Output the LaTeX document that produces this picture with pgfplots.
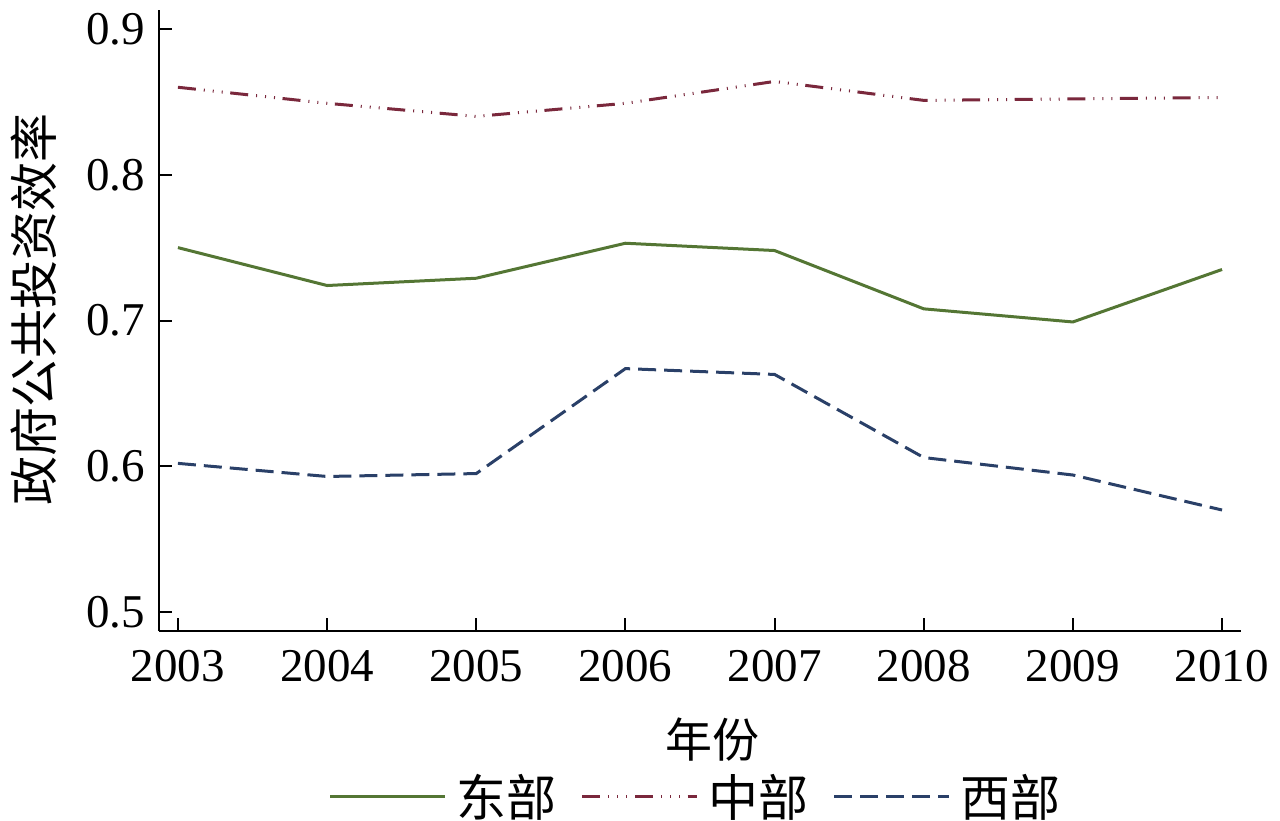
\documentclass[border=0pt]{standalone}
\usepackage{fontspec}
\setmainfont{Liberation Serif}
\newfontfamily\cjk{Noto Sans CJK SC}
\usepackage{pgfplots}
\pgfplotsset{compat=1.18}
\definecolor{cgreen}{RGB}{84,118,52}
\definecolor{cmaroon}{RGB}{122,40,60}
\definecolor{cnavy}{RGB}{42,64,104}
\begin{document}
\begin{tikzpicture}
\path[use as bounding box] (0,0) rectangle (640pt,410pt);
\begin{axis}[
  at={(79.5pt,94.5pt)}, anchor=south west,
  scale only axis, width=541pt, height=310.5pt,
  xmin=2002.873, xmax=2010.127, ymin=0.487, ymax=0.913,
  axis x line*=bottom, axis y line*=left,
  axis line style={line width=1pt, black, -},
  xtick={2003,...,2010}, ytick={0.5,0.6,0.7,0.8,0.9},
  xticklabels={2003,2004,2005,2006,2007,2008,2009,2010},
  yticklabels={0.5,0.6,0.7,0.8,0.9},
  tick align=inside, major tick length=6.5pt,
  tick style={line width=1pt, black},
  every tick label/.append style={font=\fontsize{23.5}{27}\selectfont},
  xticklabel style={yshift=-6pt},
  yticklabel style={xshift=-3.5pt},
  clip=false,
  legend style={at={(0.5,-0.267)}, anchor=center, draw=none, fill=none,
    font=\cjk\fontsize{25}{29}\selectfont, inner sep=0pt,
    nodes={inner xsep=5pt}},
  legend columns=3,
  /tikz/every even column/.append style={column sep=7pt},
  legend image code/.code={\draw[#1] (0pt,0pt) -- (57.5pt,0pt);},
]
\addplot[cgreen, line width=1.5pt] coordinates {
 (2003,0.750) (2004,0.724) (2005,0.729) (2006,0.753) (2007,0.748) (2008,0.708) (2009,0.699) (2010,0.735)};
\addlegendentry{东部}
\addplot[cmaroon, line width=1.5pt, dash pattern=on 9pt off 4pt on 0.5pt off 4pt on 0.5pt off 4pt on 0.5pt off 3.8pt] coordinates {
 (2003,0.860) (2004,0.849) (2005,0.840) (2006,0.849) (2007,0.864) (2008,0.851) (2009,0.852) (2010,0.853)};
\addlegendentry{中部}
\addplot[cnavy, line width=1.5pt, dash pattern=on 9pt off 4pt] coordinates {
 (2003,0.602) (2004,0.593) (2005,0.595) (2006,0.667) (2007,0.663) (2008,0.606) (2009,0.594) (2010,0.570)};
\addlegendentry{西部}
\node[font=\cjk\fontsize{23.5}{27}\selectfont] at (axis description cs:0.512,-0.1755) {年份};
\node[font=\cjk\fontsize{24.5}{28}\selectfont, rotate=90] at (axis description cs:-0.1155,0.517) {政府公共投资效率};
\end{axis}
\end{tikzpicture}
\end{document}
